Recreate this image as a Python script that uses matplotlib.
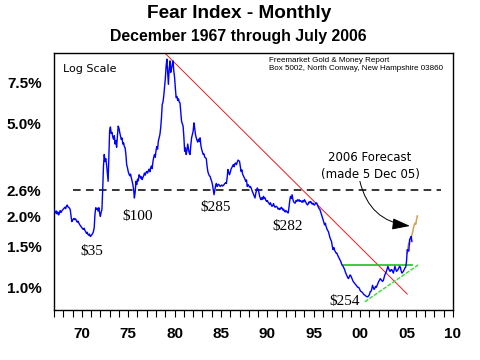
import numpy as np
import matplotlib
matplotlib.use('Agg')
import matplotlib.pyplot as plt
from matplotlib.ticker import FixedLocator, NullFormatter

plt.rcParams['font.family'] = ['Liberation Sans', 'DejaVu Sans']

# monthly fear index (%), Dec 1967 .. Jul 2006, one row = 12 months
fear = [
    2.15, 2.12, 2.08, 2.12, 2.06, 2.10, 2.04, 2.08, 2.13, 2.09, 2.12, 2.14,
    2.16, 2.18, 2.20, 2.17, 2.22, 2.25, 2.21, 2.20, 2.18, 2.15, 2.02, 1.91,
    1.93, 1.96, 1.97, 1.95, 1.96, 1.93, 1.90, 1.92, 1.89, 1.86, 1.84, 1.82,
    1.80, 1.78, 1.77, 1.79, 1.75, 1.73, 1.70, 1.72, 1.68, 1.67, 1.69, 1.65,
    1.66, 1.68, 1.70, 1.73, 1.80, 2.05, 2.19, 2.16, 2.18, 2.12, 2.19, 2.08,
    2.01, 2.10, 2.15, 2.62, 3.30, 3.70, 3.45, 3.55, 3.35, 3.10, 2.84, 3.60,
    4.70, 4.85, 4.55, 4.60, 4.40, 4.30, 4.45, 4.10, 4.25, 3.97, 4.40, 4.89,
    4.80, 4.60, 4.45, 4.29, 4.35, 4.10, 4.15, 4.00, 3.95, 3.70, 3.35, 3.25,
    3.13, 3.05, 3.00, 3.05, 2.94, 2.85, 2.75, 2.62, 2.41, 2.55, 2.84, 2.75,
    2.90, 2.85, 3.03, 3.00, 2.93, 2.97, 2.89, 2.95, 3.00, 3.08, 3.02, 3.10,
    3.13, 3.08, 3.15, 3.20, 3.12, 3.24, 3.30, 3.22, 3.45, 3.60, 3.70, 3.60,
    3.85, 4.00, 3.90, 4.22, 4.35, 4.50, 4.81, 5.30, 6.06, 6.20, 6.60, 7.15,
    7.80, 8.80, 9.46, 8.40, 7.38, 8.60, 9.30, 8.30, 8.60, 9.00, 9.30, 8.40,
    7.90, 7.10, 6.48, 6.55, 6.30, 6.40, 6.20, 6.15, 5.60, 5.13, 5.00, 4.89,
    4.40, 3.82, 3.95, 3.70, 3.85, 4.10, 3.90, 3.75, 3.70, 4.05, 4.36, 4.50,
    4.65, 5.05, 4.80, 4.50, 4.36, 4.25, 4.18, 4.30, 4.20, 4.36, 4.05, 3.89,
    3.80, 3.70, 3.72, 3.60, 3.58, 3.55, 3.30, 3.13, 3.05, 3.00, 2.98, 2.90,
    2.84, 2.75, 2.62, 2.49, 2.60, 2.72, 2.78, 2.70, 2.74, 2.76, 2.73, 2.70,
    2.72, 2.74, 2.71, 2.73, 2.75, 2.78, 2.80, 2.78, 2.95, 3.19, 3.10, 3.03,
    3.10, 3.20, 3.25, 3.30, 3.35, 3.28, 3.38, 3.40, 3.35, 3.42, 3.50, 3.48,
    3.46, 3.30, 3.13, 3.18, 3.05, 3.00, 2.95, 2.90, 2.84, 2.88, 2.70, 2.75,
    2.72, 2.68, 2.70, 2.66, 2.60, 2.55, 2.50, 2.45, 2.41, 2.52, 2.60, 2.66,
    2.62, 2.55, 2.45, 2.40, 2.37, 2.42, 2.38, 2.45, 2.40, 2.41, 2.36, 2.33,
    2.35, 2.31, 2.29, 2.26, 2.30, 2.25, 2.22, 2.24, 2.28, 2.22, 2.20, 2.22,
    2.22, 2.19, 2.16, 2.18, 2.15, 2.17, 2.20, 2.18, 2.14, 2.16, 2.12, 2.10,
    2.13, 2.11, 2.09, 2.08, 2.20, 2.35, 2.45, 2.40, 2.49, 2.38, 2.32, 2.30,
    2.29, 2.35, 2.33, 2.37, 2.34, 2.37, 2.33, 2.35, 2.33, 2.31, 2.35, 2.32,
    2.37, 2.34, 2.30, 2.27, 2.25, 2.28, 2.32, 2.30, 2.33, 2.30, 2.27, 2.29,
    2.26, 2.25, 2.28, 2.30, 2.29, 2.24, 2.20, 2.17, 2.15, 2.10, 2.05, 2.00,
    1.95, 1.90, 1.85, 1.88, 1.82, 1.78, 1.75, 1.73, 1.68, 1.63, 1.60, 1.57,
    1.50, 1.45, 1.48, 1.44, 1.42, 1.40, 1.40, 1.37, 1.35, 1.33, 1.31, 1.29,
    1.26, 1.24, 1.23, 1.21, 1.19, 1.16, 1.14, 1.12, 1.10, 1.09, 1.11, 1.13,
    1.12, 1.10, 1.08, 1.06, 1.05, 1.04, 1.03, 1.02, 1.01, 1.00, 1.00, 0.99,
    0.97, 0.96, 0.957, 0.95, 0.94, 0.93, 0.927, 0.92, 0.915, 0.911, 0.911, 0.92,
    0.93, 0.957, 0.96, 0.98, 1.02, 1.00, 0.98, 0.99, 1.01, 1.00, 1.02, 1.04,
    1.06, 1.07, 1.09, 1.08, 1.07, 1.06, 1.07, 1.10, 1.13, 1.15, 1.17, 1.20,
    1.23, 1.20, 1.18, 1.17, 1.19, 1.19, 1.17, 1.15, 1.19, 1.23, 1.20, 1.17,
    1.18, 1.19, 1.21, 1.23, 1.22, 1.18, 1.15, 1.16, 1.17, 1.19, 1.21, 1.22,
    1.29, 1.45, 1.43, 1.43, 1.60, 1.62, 1.65, 1.57,
]

# 2006 forecast (months counted from Dec 1967)
forecast_months = [457, 458, 459, 460, 461, 462, 463, 464, 465, 466, 467, 468, 469, 470]
forecast = [1.40, 1.50, 1.55, 1.52, 1.62, 1.60, 1.68, 1.72, 1.80, 1.85, 1.88, 1.86, 1.95, 2.02]

# trend lines (month, value)
downtrend = [(144, 10.0), (457, 0.936)]
resistance = [(374, 1.245), (463, 1.245)]
uptrend = [(402, 0.867), (471, 1.246)]
ref_level = 2.6

year_labels = ['70', '75', '80', '85', '90', '95', '00', '05', '10']
y_ticks = [1.0, 1.5, 2.0, 2.6, 5.0, 7.5]

lows = [('$35', 48.8, 1.42), ('$100', 108.4, 2.01), ('$285', 209.5, 2.19),
        ('$282', 302.5, 1.82), ('$254', 376.3, 0.867)]

months = np.arange(len(fear))

fig = plt.figure(figsize=(4.8, 3.6), dpi=100)
ax = fig.add_axes([0.1125, 0.1389, 0.831, 0.7125])

ax.set_yscale('log')
ax.plot(months, fear, color='#0000ff', lw=1.0, zorder=3)
ax.plot(forecast_months, forecast, color='#d2a05a', lw=1.1, zorder=2)

ax.plot(*zip(*downtrend), color='#e02020', lw=0.7, zorder=2)
ax.plot(*zip(*resistance), color='#20c020', lw=1.2, zorder=2)
ax.plot(*zip(*uptrend), color='#33dd33', lw=1.0, ls=(0, (3, 1)), zorder=2)
ax.plot([24, 501], [ref_level, ref_level], color='black', lw=1.1, ls=(0, (5, 3.5)), zorder=1)

ax.set_xlim(0, 516)
ax.set_ylim(0.8, 10.0)

ax.set_yticks(y_ticks)
ax.yaxis.set_minor_locator(FixedLocator([]))
ax.yaxis.set_minor_formatter(NullFormatter())
ax.set_yticklabels([f'{v:.1f}%' for v in y_ticks], fontsize=11, fontweight='bold')
ax.tick_params(axis='y', length=0, pad=9)

ax.set_xticks([36 + 60 * i for i in range(len(year_labels))])
ax.set_xticklabels(year_labels, fontsize=11, fontweight='bold')
ax.xaxis.set_minor_locator(FixedLocator(list(range(0, 517, 12))))
ax.tick_params(axis='x', which='both', direction='out', length=5, width=0.8, pad=7)

for s in ax.spines.values():
    s.set_linewidth(1.0)

fig.text(0.499, 0.962, 'Fear Index - Monthly', ha='center', va='center',
         fontsize=13.7, fontweight='bold')
fig.text(0.496, 0.899, 'December 1967 through July 2006', ha='center', va='center',
         fontsize=11.4, fontweight='bold')

ax.text(11.3, 8.57, 'Log Scale', ha='left', va='center', fontsize=8,
        family='DejaVu Sans')
ax.text(278, 9.0, 'Freemarket Gold & Money Report\nBox 5002, North Conway, New Hampshire 03860',
        ha='left', va='center', fontsize=5.8, linespacing=1.25)
ax.text(409, 3.3, '2006 Forecast\n(made 5 Dec 05)', ha='center', va='center',
        fontsize=8.5, family='DejaVu Sans', linespacing=1.35)

for label, m, v in lows:
    ax.text(m, v, label, ha='center', va='center', fontsize=11, family='Liberation Serif')

ax.annotate('', xy=(460.5, 1.83), xytext=(395.7, 2.84),
            arrowprops=dict(arrowstyle='-|>,head_length=1.1,head_width=0.35',
                            connectionstyle='arc3,rad=0.35', color='black',
                            lw=0.7, mutation_scale=10, shrinkA=0, shrinkB=0))

fig.savefig('out.png', dpi=100)
